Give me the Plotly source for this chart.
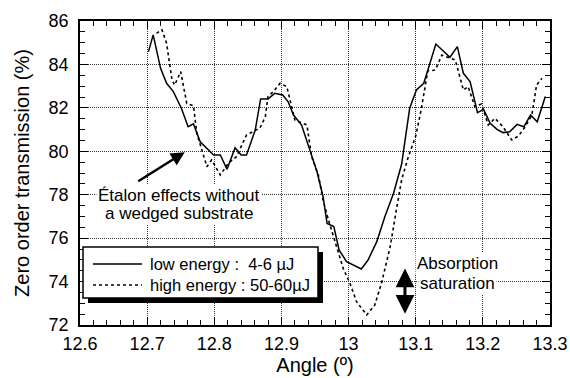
import plotly.graph_objects as go

# ---- data ----
low_x = [12.702, 12.709, 12.720, 12.729, 12.739, 12.751, 12.761, 12.769, 12.779, 12.789,
         12.799, 12.809, 12.819, 12.831, 12.840, 12.848, 12.861, 12.869, 12.880, 12.890,
         12.902, 12.910, 12.918, 12.930, 12.943, 12.953, 12.962, 12.968, 12.978, 12.986,
         12.997, 13.019, 13.029, 13.042, 13.054, 13.067, 13.079, 13.091, 13.101, 13.112,
         13.130, 13.151, 13.162, 13.171, 13.181, 13.192, 13.201, 13.211, 13.221, 13.230,
         13.240, 13.251, 13.261, 13.271, 13.281, 13.293]
low_y = [84.59, 85.36, 83.82, 83.13, 82.75, 81.98, 81.13, 81.26, 80.44, 80.14,
         79.83, 79.83, 79.17, 80.16, 79.83, 79.83, 80.98, 82.41, 82.41, 82.67,
         82.59, 82.28, 81.67, 81.21, 79.98, 79.06, 77.91, 76.68, 76.53, 75.45,
         74.92, 74.58, 74.99, 75.84, 76.99, 78.07, 79.40, 81.98, 82.82, 83.13,
         84.94, 84.33, 84.82, 83.59, 83.21, 81.78, 81.93, 81.29, 81.01, 80.86,
         80.90, 81.24, 81.13, 81.67, 81.36, 82.52]

high_x = [12.714, 12.722, 12.729, 12.737, 12.741, 12.750, 12.759, 12.769, 12.774, 12.781,
          12.789, 12.796, 12.809, 12.821, 12.833, 12.848, 12.861, 12.868, 12.876, 12.880,
          12.888, 12.898, 12.908, 12.920, 12.938, 12.945, 12.955, 12.962, 12.970, 12.985,
          12.992, 13.002, 13.012, 13.027, 13.039, 13.049, 13.062, 13.072, 13.079, 13.089,
          13.100, 13.108, 13.118, 13.129, 13.139, 13.159, 13.171, 13.178, 13.188, 13.198,
          13.208, 13.218, 13.230, 13.243, 13.253, 13.263, 13.273, 13.280, 13.288]
high_y = [85.43, 85.60, 84.97, 83.28, 83.05, 83.67, 82.21, 82.09, 80.83, 80.06,
          79.29, 79.60, 78.91, 79.45, 79.75, 80.75, 80.98, 81.07, 81.59, 82.52,
          82.75, 83.13, 82.98, 81.44, 81.21, 79.75, 78.91, 77.76, 76.84, 75.38,
          74.61, 73.92, 73.07, 72.46, 72.92, 73.92, 75.61, 77.45, 78.68, 79.75,
          80.70, 81.90, 83.70, 83.74, 84.43, 84.20, 82.82, 82.98, 82.06, 82.18,
          81.21, 81.52, 81.13, 80.52, 80.70, 81.13, 81.67, 83.05, 83.36]

series_names = ["low energy :\u00a0\u00a04-6 \u00b5J", "high energy : 50-60\u00b5J"]
x_title = "Angle (\u00ba)"
y_title = "Zero order transmission (%)"
note_etalon = ["\u00c9talon effects without", "a wedged substrate"]
note_abs = ["Absorption", "saturation"]

FONT = "Liberation Sans, Arial, sans-serif"

fig = go.Figure()
fig.add_trace(go.Scatter(x=low_x, y=low_y, mode="lines", name=series_names[0],
                         line=dict(color="black", width=1.5), showlegend=False))
fig.add_trace(go.Scatter(x=high_x, y=high_y, mode="lines", name=series_names[1],
                         line=dict(color="black", width=1.6, dash="3px,3px"), showlegend=False))

axis_common = dict(
    showline=True, linecolor="black", linewidth=1.5, mirror="ticks",
    ticks="inside", ticklen=8, tickwidth=1.2, tickcolor="black",
    showgrid=True, gridcolor="#333", gridwidth=1, griddash="1px,1px",
    zeroline=False, automargin=False,
    tickfont=dict(family=FONT, size=18, color="black"),
)

fig.update_xaxes(range=[12.6, 13.3], dtick=0.1, tick0=12.6,
                 minor=dict(dtick=0.02, ticks="inside", ticklen=5, tickcolor="black", showgrid=False),
                 title=dict(text=x_title, font=dict(family=FONT, size=20, color="black"), standoff=3),
                 ticklabelstandoff=2,
                 **axis_common)
fig.update_yaxes(range=[72, 86], dtick=2, tick0=72,
                 minor=dict(dtick=0.5, ticks="inside", ticklen=5, tickcolor="black", showgrid=False),
                 title=dict(text=y_title, font=dict(family=FONT, size=20, color="black"), standoff=14),
                 ticklabelstandoff=6,
                 **axis_common)

def px_to_paper(px, py):
    return (px - 80) / 470.0, (325 - py) / 304.0

shapes = []
# legend shadow and box
sx0, sy0 = px_to_paper(88, 303)
sx1, sy1 = px_to_paper(323, 252)
shapes.append(dict(type="rect", xref="paper", yref="paper", x0=sx0, y0=sy0, x1=sx1, y1=sy1,
                   fillcolor="black", line=dict(width=0)))
bx0, by0 = px_to_paper(83, 298)
bx1, by1 = px_to_paper(318, 247)
shapes.append(dict(type="rect", xref="paper", yref="paper", x0=bx0, y0=by0, x1=bx1, y1=by1,
                   fillcolor="white", line=dict(color="black", width=1.5)))
lx0, ly1 = px_to_paper(93, 264)
lx1, ly2 = px_to_paper(142, 285)
shapes.append(dict(type="line", xref="paper", yref="paper", x0=lx0, x1=lx1, y0=ly1, y1=ly1,
                   line=dict(color="black", width=1.5)))
shapes.append(dict(type="line", xref="paper", yref="paper", x0=lx0, x1=lx1, y0=ly2, y1=ly2,
                   line=dict(color="black", width=1.6, dash="3px,3px")))
fig.update_layout(shapes=shapes)

ann = []
tx, _ = px_to_paper(148, 0)
for name, py in zip(series_names, [264, 285]):
    _, ty = px_to_paper(0, py)
    ann.append(dict(text=name, xref="paper", yref="paper", x=tx, y=ty, xanchor="left",
                    yanchor="middle", showarrow=False,
                    font=dict(family=FONT, size=16.5, color="black")))

# etalon note
cx, _ = px_to_paper(179, 0)
for line, py in zip(note_etalon, [195, 213]):
    _, ty = px_to_paper(0, py)
    ann.append(dict(text=line, xref="paper", yref="paper", x=cx, y=ty, xanchor="center",
                    yanchor="middle", showarrow=False, bgcolor="white", borderpad=1,
                    font=dict(family=FONT, size=17, color="black")))
# arrow to etalon feature
ann.append(dict(text="", x=12.756, y=79.96, xref="x", yref="y", ax=-48, ay=30,
                showarrow=True, arrowhead=2, arrowsize=1.1, arrowwidth=2.5, arrowcolor="black"))

# absorption note
cx2, _ = px_to_paper(457, 0)
for line, py in zip(note_abs, [263, 283]):
    _, ty = px_to_paper(0, py)
    ann.append(dict(text=line, xref="paper", yref="paper", x=cx2, y=ty, xanchor="center",
                    yanchor="middle", showarrow=False, bgcolor="white", borderpad=1,
                    font=dict(family=FONT, size=17, color="black")))
# double arrow
ann.append(dict(text="", x=13.084, y=74.6, xref="x", yref="y", ax=13.084, ay=72.45,
                axref="x", ayref="y", showarrow=True, arrowhead=2, startarrowhead=2,
                arrowside="end+start", arrowsize=1.25, startarrowsize=1.25,
                arrowwidth=3, arrowcolor="black"))

fig.update_layout(annotations=ann)

fig.update_layout(
    width=570, height=378,
    margin=dict(l=80, r=20, t=21, b=53),
    paper_bgcolor="white", plot_bgcolor="white",
    font=dict(family=FONT, color="black"),
)

fig.write_html("out.html")
